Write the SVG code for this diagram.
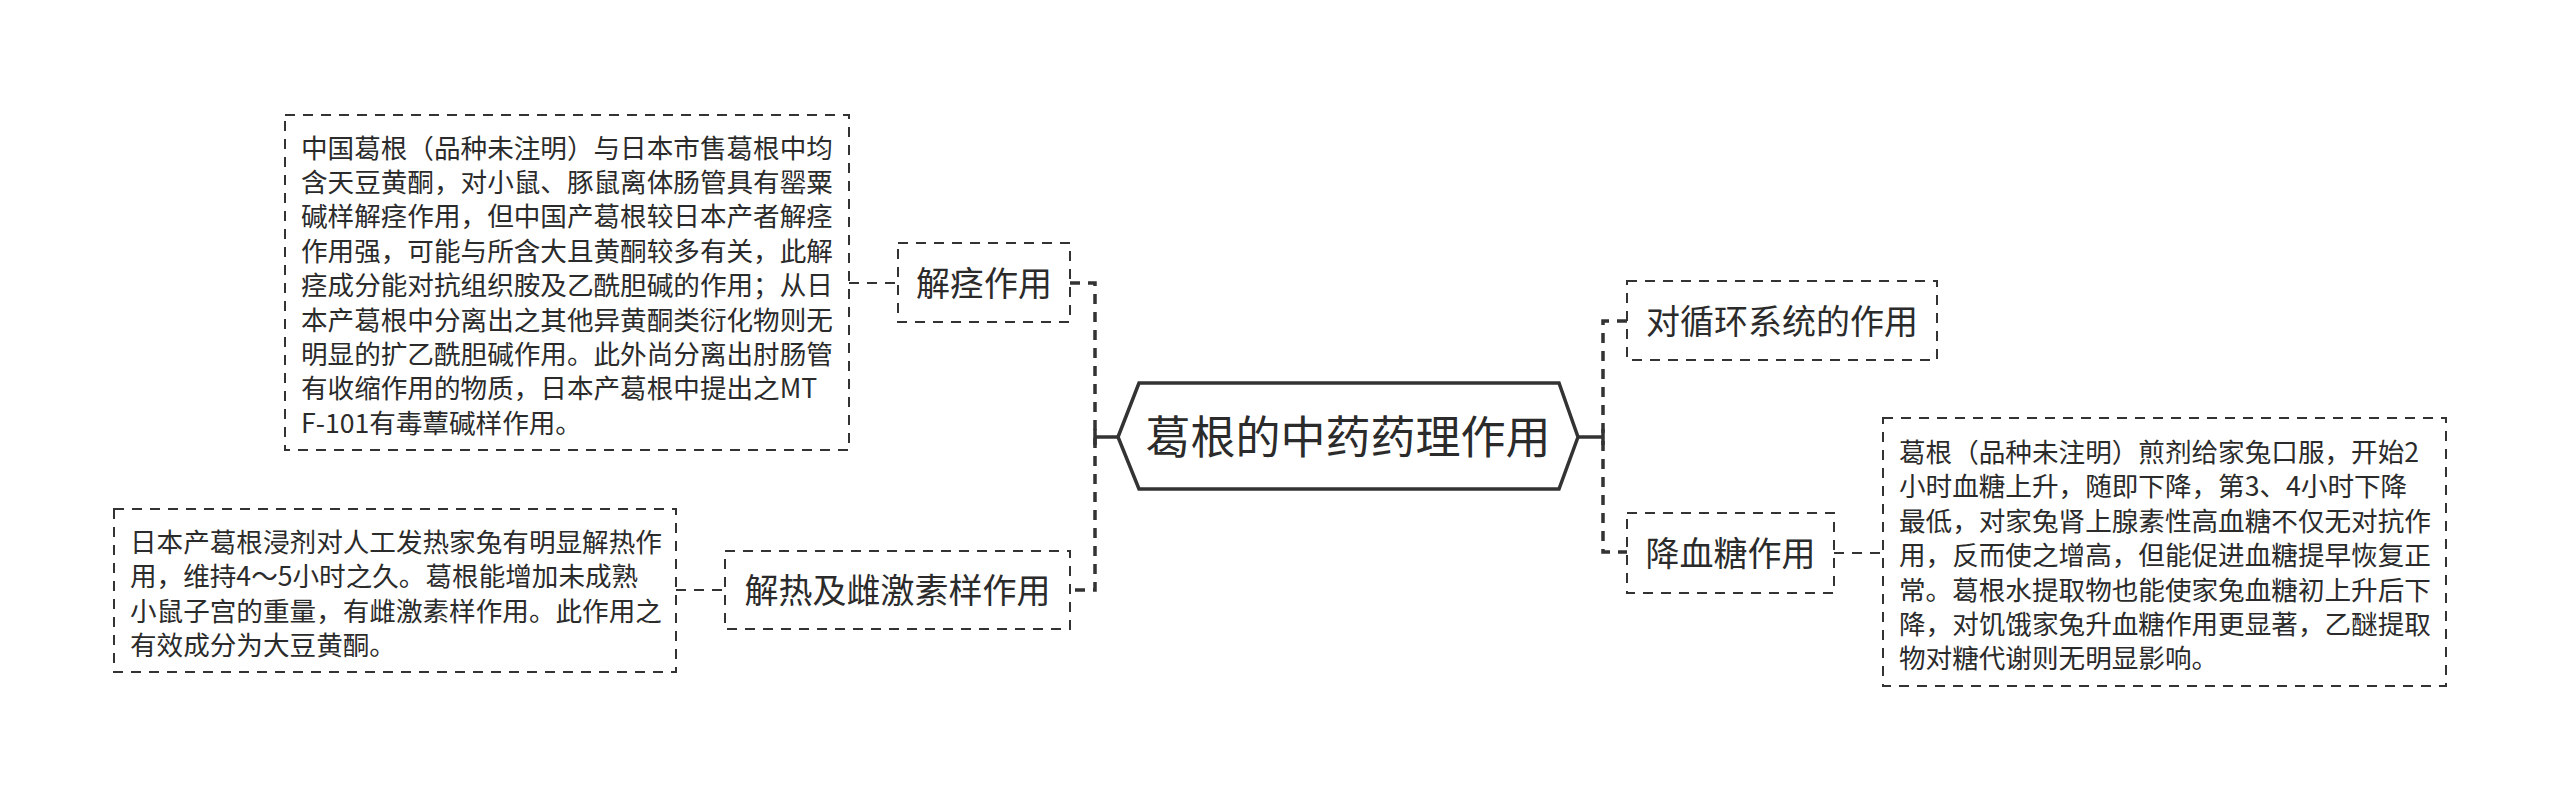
<svg xmlns="http://www.w3.org/2000/svg" width="2560" height="801" viewBox="0 0 2560 801">
<style>
.t{font-family:"Noto Sans CJK SC","Noto Sans",sans-serif;fill:#2b2b2b}
.body{font-size:26.6px}
.sub{font-size:34px;text-anchor:middle}
.main{font-size:45px;text-anchor:middle}
.box{fill:#fff;stroke:#333;stroke-width:2;stroke-dasharray:10 8}
.thin{fill:none;stroke:#333;stroke-width:2;stroke-dasharray:10 8}
.spine{fill:none;stroke:#333;stroke-width:3.5;stroke-dasharray:10 8}
.solid{fill:none;stroke:#333;stroke-width:3.5}
</style>
<rect width="2560" height="801" fill="#fff"/>
<g id="connectors">
<path class="thin" d="M849,283 H898"/>
<path class="thin" d="M676,590 H725"/>
<path class="thin" d="M1834,553 H1883"/>
<path class="spine" d="M1070,283 H1095 V590 H1070"/>
<path class="spine" d="M1627,321 H1603 V552 H1627"/>
<path class="solid" d="M1095,437 H1118 M1095,429 V445"/>
<path class="solid" d="M1578,437 H1603 M1603,429 V445"/>
</g>
<g id="root">
<polygon points="1118,437 1139,383 1559,383 1578,437 1559,489 1139,489" fill="#fff" stroke="#333" stroke-width="3.5"/>
<text class="t main" x="1348" y="453.5">葛根的中药药理作用</text>
</g>
<g id="n-jiejing">
<rect class="box" x="898" y="243" width="172" height="79"/>
<text class="t sub" x="984" y="295.5">解痉作用</text>
</g>
<g id="n-jiejing-detail">
<rect class="box" x="285" y="115" width="564" height="335"/>
<text class="t body">
<tspan x="301" y="157.5">中国葛根（品种未注明）与日本市售葛根中均</tspan>
<tspan x="301" y="191.9">含天豆黄酮，对小鼠、豚鼠离体肠管具有罂粟</tspan>
<tspan x="301" y="226.3">碱样解痉作用，但中国产葛根较日本产者解痉</tspan>
<tspan x="301" y="260.7">作用强，可能与所含大且黄酮较多有关，此解</tspan>
<tspan x="301" y="295.1">痉成分能对抗组织胺及乙酰胆碱的作用；从日</tspan>
<tspan x="301" y="329.5">本产葛根中分离出之其他异黄酮类衍化物则无</tspan>
<tspan x="301" y="363.9">明显的扩乙酰胆碱作用。此外尚分离出肘肠管</tspan>
<tspan x="301" y="398.3">有收缩作用的物质，日本产葛根中提出之MT</tspan>
<tspan x="301" y="432.7">F-101有毒蕈碱样作用。</tspan>
</text>
</g>
<g id="n-jiere">
<rect class="box" x="725" y="551" width="345" height="78"/>
<text class="t sub" x="897.5" y="603">解热及雌激素样作用</text>
</g>
<g id="n-jiere-detail">
<rect class="box" x="114" y="509" width="562" height="163"/>
<text class="t body">
<tspan x="130" y="552">日本产葛根浸剂对人工发热家兔有明显解热作</tspan>
<tspan x="130" y="586.4">用，维持4～5小时之久。葛根能增加未成熟</tspan>
<tspan x="130" y="620.8">小鼠子宫的重量，有雌激素样作用。此作用之</tspan>
<tspan x="130" y="655.2">有效成分为大豆黄酮。</tspan>
</text>
</g>
<g id="n-xunhuan">
<rect class="box" x="1627" y="281" width="310" height="79"/>
<text class="t sub" x="1782" y="333.5">对循环系统的作用</text>
</g>
<g id="n-xuetang">
<rect class="box" x="1627" y="513" width="207" height="80"/>
<text class="t sub" x="1730.5" y="566">降血糖作用</text>
</g>
<g id="n-xuetang-detail">
<rect class="box" x="1883" y="418" width="563" height="268"/>
<text class="t body">
<tspan x="1899" y="462">葛根（品种未注明）煎剂给家兔口服，开始2</tspan>
<tspan x="1899" y="496.4">小时血糖上升，随即下降，第3、4小时下降</tspan>
<tspan x="1899" y="530.8">最低，对家兔肾上腺素性高血糖不仅无对抗作</tspan>
<tspan x="1899" y="565.2">用，反而使之增高，但能促进血糖提早恢复正</tspan>
<tspan x="1899" y="599.6">常。葛根水提取物也能使家兔血糖初上升后下</tspan>
<tspan x="1899" y="634">降，对饥饿家兔升血糖作用更显著，乙醚提取</tspan>
<tspan x="1899" y="668.4">物对糖代谢则无明显影响。</tspan>
</text>
</g>
</svg>
